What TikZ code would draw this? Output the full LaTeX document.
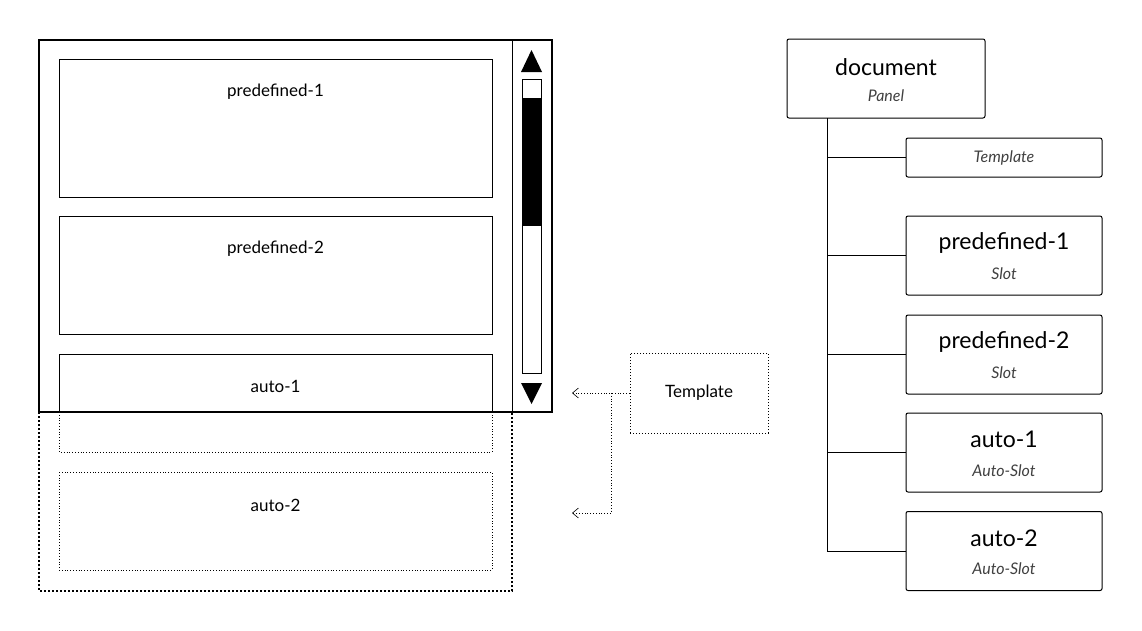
\documentclass[tikz,border=0pt]{standalone}
\usepackage{fontspec}
\setmainfont{Lato}
\usetikzlibrary{arrows.meta}
\begin{document}
\begin{tikzpicture}[x=1pt,y=-1pt,
 slot/.style={draw,thin,line width=0.8pt},
 dslot/.style={draw,line width=0.8pt,dotted},
 lbl/.style={font=\fontsize{17}{20}\selectfont,anchor=center},
 tnode/.style={draw,line width=1pt,rounded corners=2pt},
 big/.style={font=\fontsize{23}{26}\selectfont},
 sub/.style={font=\fontsize{16}{19}\selectfont\itshape,text=black!75},
 tree/.style={line width=1pt},
 arr/.style={dotted,line width=0.8pt,-{Straight Barb[length=6pt,width=10pt,line width=0.6pt]}}]
\useasboundingbox (0,0) rectangle (1142,630);
% left panel
\draw[dslot] (59,412) -- (59,452) -- (492,452) -- (492,412);
\draw[slot,fill=white] (59,59) rectangle (492,197);
\node[lbl] (p1) at (275.5,92) {predefined-1};
\draw[slot] (59,216) rectangle (492,334);
\node[lbl] (p2) at (275.5,249) {predefined-2};
\draw[slot] (59,412) -- (59,354) -- (492,354) -- (492,412);
\node[lbl] (a1) at (275.5,386) {auto-1};
\draw[dslot] (59,472) rectangle (492,570);
\node[lbl] (a2) at (275.5,505) {auto-2};
\draw[line width=2pt,dotted] (39,412) -- (39,591) -- (512,591) -- (512,412);
\draw[line width=2pt] (39,40) rectangle (552,412);
\draw[line width=1pt] (512,40) -- (512,412);
\fill (521,72) -- (542,72) -- (531.5,50) -- cycle;
\fill (521,383) -- (542,383) -- (531.5,404) -- cycle;
\draw[line width=1pt] (522,79) rectangle (541,373);
\fill (522,98) rectangle (541,226);
% template
\node[draw,dotted,line width=1pt,minimum width=138pt,minimum height=80pt,font=\fontsize{17}{20}\selectfont] (tp) at (699,393) {Template};
\coordinate (e1) at (572,393);
\coordinate (k) at (611,393);
\coordinate (e2) at (572,513);
\draw[arr] (tp.west) -- (e1);
\draw[arr] (k) -- (611,513) -- (e2);
% tree
\node[tnode,minimum width=198pt,minimum height=79pt] (doc) at (886,78.5) {};
\node[big] at (886,67) {document};
\node[sub] at (886,96) {Panel};
\node[tnode,minimum width=196pt,minimum height=39pt,sub] (tt) at (1004,157.5) {Template};
\foreach \n/\t/\s/\y in {q1/predefined-1/Slot/255.5, q2/predefined-2/Slot/354.5, r1/auto-1/Auto-Slot/452.5, r2/auto-2/Auto-Slot/551}{
 \node[tnode,minimum width=196pt,minimum height=79pt] (\n) at (1004,\y) {};
 \node[big] at (1004,\y-13) {\t};
 \node[sub] at (1004,\y+18) {\s};
}
\draw[tree] (827,118) -- (827,551) -- (r2.west);
\foreach \n in {tt,q1,q2,r1}{\draw[tree] (\n.west) -- (827,0 |- \n.west);}
\end{tikzpicture}
\end{document}
